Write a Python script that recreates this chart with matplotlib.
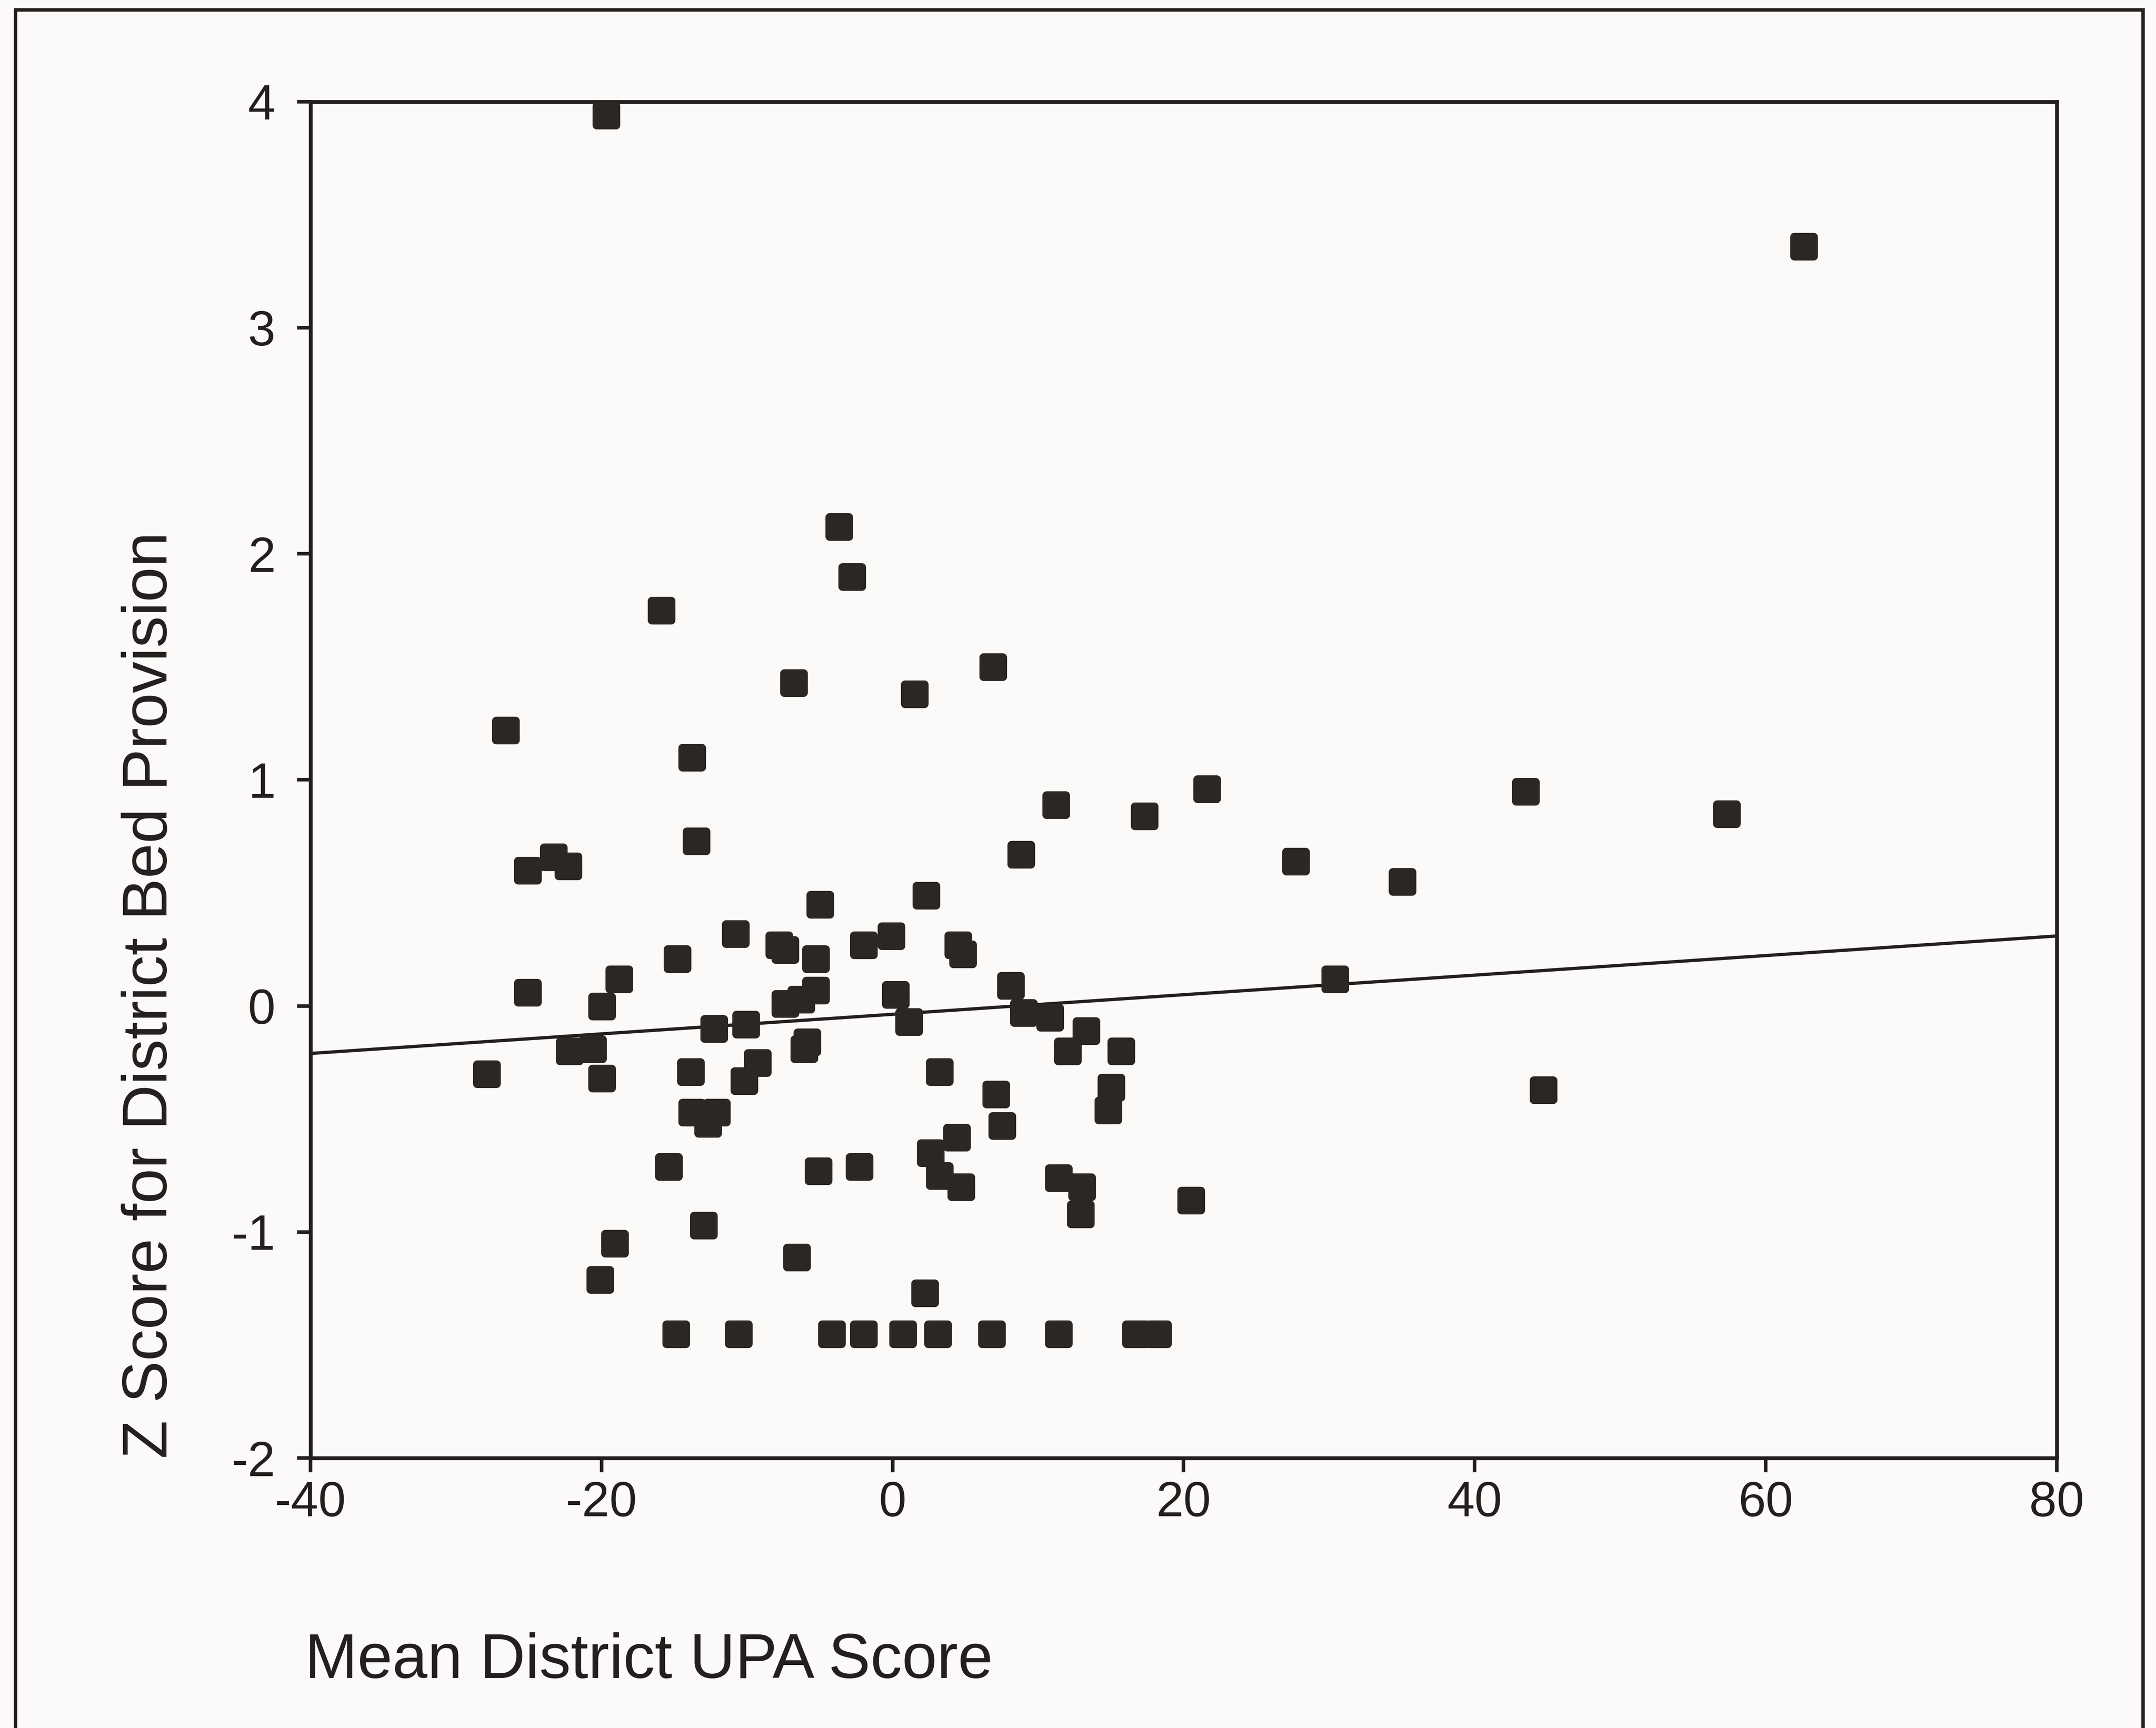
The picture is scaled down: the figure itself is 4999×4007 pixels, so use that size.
import matplotlib
matplotlib.use('Agg')
import matplotlib.pyplot as plt
from matplotlib.markers import MarkerStyle
from matplotlib.patches import Rectangle
import numpy as np

# data
upa_score = [
    -19.7, 62.6, -3.7, -2.8, -15.9, -6.8, 6.9, 1.5, -26.6, -13.8,
    21.6, 43.5, 11.2, 17.3, 57.3, -13.5, 8.8, -23.3, -22.3, -25.1,
    27.7, 35.0, 2.3, -5.0, -10.8, -0.1, -2.0, -7.8, -7.4, 4.5,
    4.8, -14.8, -5.3, -18.8, 30.4, 8.1, -25.1, -5.3, 0.2, -7.4,
    -6.3, -20.0, 1.1, 9.0, 10.8, -10.1, -12.3, 13.3, 12.0, 15.7,
    -22.2, -20.6, -6.1, -5.9, -9.3, -27.9, -10.2, -13.9, -20.0, 3.2,
    15.0, 44.7, 7.1, 14.8, -13.8, -12.1, -12.7, 7.5, 4.4, 2.6,
    -15.4, -5.1, -2.3, 3.2, 4.7, 11.4, 13.0, 12.9, 20.5, -13.0,
    -19.1, -6.6, -20.1, 2.2,
    -14.9, -10.6, -4.2, -2.0, 0.7, 3.1, 6.8, 11.4, 16.7, 18.2,
]
bed_z = [
    3.94, 3.36, 2.12, 1.90, 1.75, 1.43, 1.50, 1.38, 1.22, 1.10,
    0.96, 0.95, 0.89, 0.84, 0.85, 0.73, 0.67, 0.66, 0.62, 0.60,
    0.64, 0.55, 0.49, 0.45, 0.32, 0.31, 0.27, 0.27, 0.25, 0.27,
    0.23, 0.21, 0.21, 0.12, 0.12, 0.09, 0.06, 0.07, 0.05, 0.01,
    0.03, 0.00, -0.07, -0.03, -0.05, -0.08, -0.10, -0.11, -0.20, -0.20,
    -0.20, -0.19, -0.19, -0.16, -0.25, -0.30, -0.33, -0.29, -0.32, -0.29,
    -0.36, -0.37, -0.39, -0.46, -0.47, -0.47, -0.52, -0.53, -0.58, -0.65,
    -0.71, -0.73, -0.71, -0.75, -0.80, -0.76, -0.80, -0.92, -0.86, -0.97,
    -1.05, -1.11, -1.21, -1.27,
    -1.45, -1.45, -1.45, -1.45, -1.45, -1.45, -1.45, -1.45, -1.45, -1.45,
]

# fitted line as drawn on the chart: intercept, slope
fit_intercept = -0.037
fit_slope = 0.00433

x_ticks = [-40, -20, 0, 20, 40, 60, 80]
y_ticks = [-2, -1, 0, 1, 2, 3, 4]

ink = '#231f1e'
dot = '#2b2725'
paper = '#fbfaf8'

plt.rcParams['font.family'] = ['Liberation Sans', 'DejaVu Sans']
plt.rcParams['axes.unicode_minus'] = False  # plain hyphen like the original

fig = plt.figure(figsize=(4999 / 300, 4007 / 300), dpi=300, facecolor=paper)

# outer frame round the whole figure
fig.patches.append(Rectangle((0.0072, -0.01), 0.9868, 1.0043, transform=fig.transFigure,
                             fill=False, edgecolor=ink, linewidth=1.9))

ax = fig.add_axes([0.144, 0.1562, 0.810, 0.785])
ax.set_facecolor(paper)

# squares with rounded corners
square = MarkerStyle('s', joinstyle='round')
ax.plot(upa_score, bed_z, linestyle='none', marker=square, markersize=10.8,
        markerfacecolor=dot, markeredgecolor=dot, markeredgewidth=4.6,
        clip_on=False, zorder=3)

xs = np.array([x_ticks[0], x_ticks[-1]])
ax.plot(xs, fit_intercept + fit_slope * xs, color=ink, linewidth=1.8, zorder=2)

ax.set_xlim(-40, 80)
ax.set_ylim(-2, 4)
ax.set_xticks(x_ticks)
ax.set_yticks(y_ticks)

for side in ['left', 'bottom', 'top', 'right']:
    ax.spines[side].set_linewidth(2.1)
    ax.spines[side].set_color(ink)

ax.tick_params(axis='x', direction='out', length=8, width=2.0, pad=4.5,
               labelsize=27.5, colors=ink)
ax.tick_params(axis='y', direction='out', length=7.5, width=2.0, pad=12,
               labelsize=27.5, colors=ink)

fig.text(0.0697, 0.156, 'Z Score for District Bed Provision', rotation=90,
         ha='center', va='bottom', fontsize=35, color=ink)
fig.text(0.1415, 0.029, 'Mean District UPA Score', ha='left', va='baseline',
         fontsize=35, color=ink)

plt.savefig('out.png', dpi=300, facecolor=paper)
plt.close()
